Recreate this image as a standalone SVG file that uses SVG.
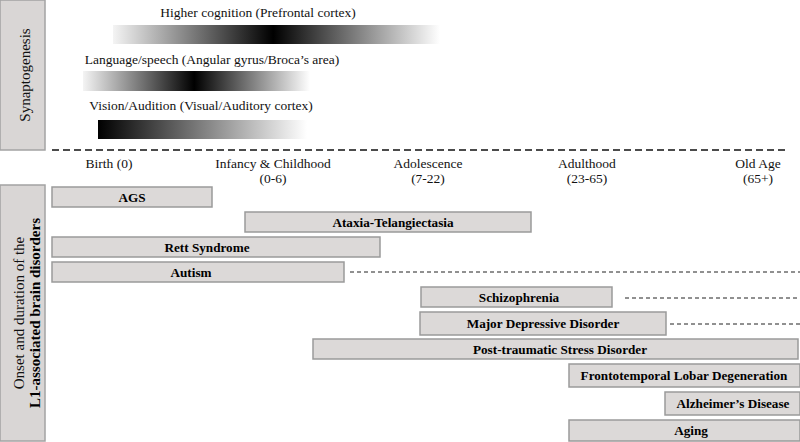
<svg xmlns="http://www.w3.org/2000/svg" width="800" height="442" viewBox="0 0 800 442">
<defs>
<linearGradient id="gPeak" x1="0" y1="0" x2="1" y2="0">
<stop offset="0" stop-color="#f4f4f4"/>
<stop offset="0.49" stop-color="#000000"/>
<stop offset="1" stop-color="#ffffff"/>
</linearGradient>
<linearGradient id="gFade" x1="0" y1="0" x2="1" y2="0">
<stop offset="0" stop-color="#000000"/>
<stop offset="1" stop-color="#ffffff"/>
</linearGradient>
<style>
.side{fill:#d9d6d5;stroke:#a3a3a3;stroke-width:1.5}
.bar{fill:#dcd9d8;stroke:#9a9a9a;stroke-width:1.5}
.t{font-family:"Liberation Serif","Times New Roman",serif;font-size:13.5px;fill:#111;text-anchor:middle}
.b{font-family:"Liberation Serif","Times New Roman",serif;font-size:13.2px;font-weight:bold;fill:#000;text-anchor:middle}
.s{font-family:"Liberation Serif","Times New Roman",serif;font-size:15px;fill:#111;text-anchor:middle}
.sb{font-family:"Liberation Serif","Times New Roman",serif;font-size:15px;font-weight:bold;fill:#000;text-anchor:middle}
.axis{stroke:#111;stroke-width:1.5;stroke-dasharray:7 4;fill:none}
.cont{stroke:#222;stroke-width:1;stroke-dasharray:4 3;fill:none}
</style>
</defs>
<rect width="800" height="442" fill="#ffffff"/>

<g id="side-synaptogenesis">
<rect class="side" x="0" y="0" width="45" height="150"/>
<text class="s" transform="translate(30,75) rotate(-90)">Synaptogenesis</text>
</g>

<g id="side-onset">
<rect class="side" x="0" y="185" width="45" height="256"/>
<text class="s" transform="translate(24,313) rotate(-90)">Onset and duration of the</text>
<text class="sb" transform="translate(40,313) rotate(-90)">L1-associated brain disorders</text>
</g>

<g id="syn-higher">
<text class="t" x="258" y="17">Higher cognition (Prefrontal cortex)</text>
<rect x="113" y="25" width="327" height="19" fill="url(#gPeak)"/>
</g>
<g id="syn-language">
<text class="t" x="212" y="64">Language/speech (Angular gyrus/Broca’s area)</text>
<rect x="83" y="71" width="227" height="20" fill="url(#gPeak)"/>
</g>
<g id="syn-vision">
<text class="t" x="201" y="110">Vision/Audition (Visual/Auditory cortex)</text>
<rect x="98" y="120" width="209" height="19" fill="url(#gFade)"/>
</g>

<g id="timeline">
<line class="axis" x1="52" y1="150" x2="785" y2="150"/>
<text class="t" x="109" y="168">Birth (0)</text>
<text class="t" x="273" y="168">Infancy &amp; Childhood</text>
<text class="t" x="273" y="183">(0-6)</text>
<text class="t" x="428" y="168">Adolescence</text>
<text class="t" x="428" y="183">(7-22)</text>
<text class="t" x="587" y="168">Adulthood</text>
<text class="t" x="587" y="183">(23-65)</text>
<text class="t" x="758" y="168">Old Age</text>
<text class="t" x="758" y="183">(65+)</text>
</g>

<g id="connectors">
<line class="cont" x1="350" y1="272" x2="800" y2="272"/>
<line class="cont" x1="625" y1="298" x2="800" y2="298"/>
<line class="cont" x1="670" y1="324" x2="800" y2="324"/>
</g>

<g id="bar-ags">
<rect class="bar" x="52" y="187" width="160" height="20"/>
<text class="b" x="132" y="202">AGS</text>
</g>
<g id="bar-ataxia">
<rect class="bar" x="245" y="212" width="286" height="20"/>
<text class="b" x="393" y="227">Ataxia-Telangiectasia</text>
</g>
<g id="bar-rett">
<rect class="bar" x="52" y="237" width="328" height="20"/>
<text class="b" x="207" y="252">Rett Syndrome</text>
</g>
<g id="bar-autism">
<rect class="bar" x="52" y="262" width="292" height="20"/>
<text class="b" x="191" y="277">Autism</text>
</g>
<g id="bar-schizophrenia">
<rect class="bar" x="421" y="287" width="191" height="20"/>
<text class="b" x="519" y="302">Schizophrenia</text>
</g>
<g id="bar-mdd">
<rect class="bar" x="420" y="312" width="246" height="23"/>
<text class="b" x="543" y="328">Major Depressive Disorder</text>
</g>
<g id="bar-ptsd">
<rect class="bar" x="313" y="339" width="485" height="20"/>
<text class="b" x="560" y="354">Post-traumatic Stress Disorder</text>
</g>
<g id="bar-ftld">
<rect class="bar" x="569" y="364" width="231" height="23"/>
<text class="b" x="684" y="380">Frontotemporal Lobar Degeneration</text>
</g>
<g id="bar-alzheimer">
<rect class="bar" x="665" y="392" width="135" height="23"/>
<text class="b" x="733" y="408">Alzheimer’s Disease</text>
</g>
<g id="bar-aging">
<rect class="bar" x="569" y="420" width="231" height="21"/>
<text class="b" x="691" y="435">Aging</text>
</g>
</svg>
